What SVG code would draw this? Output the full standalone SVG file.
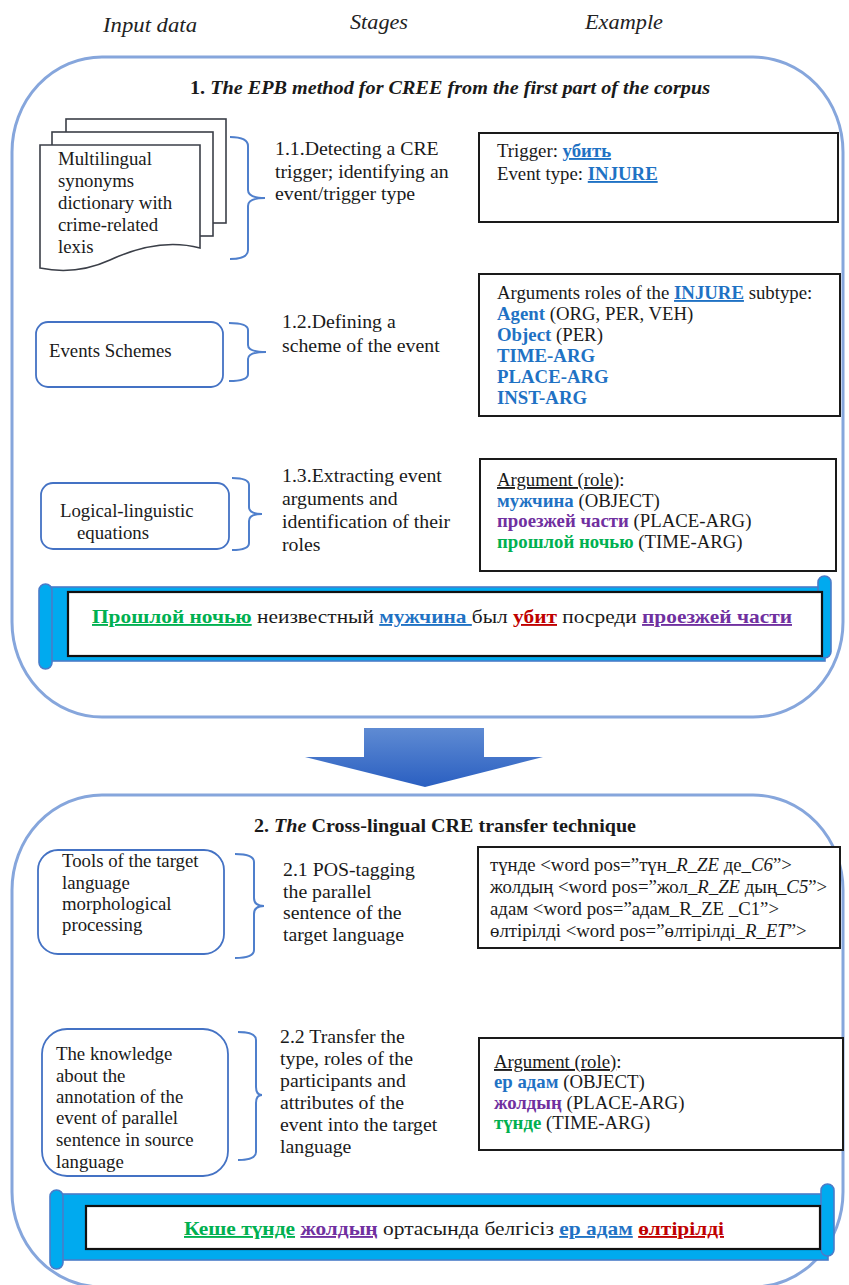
<svg xmlns="http://www.w3.org/2000/svg" width="849" height="1285" viewBox="0 0 849 1285">
  <defs>
    <style>
      .t { font-family: "Liberation Serif", "DejaVu Serif", serif; font-size: 18.8px; fill: #1a1a1a; }
      .st { font-size: 19.8px; }
      .hdr { font-style: italic; font-size: 21px; fill: #222; }
      .b { font-weight: bold; }
      .i { font-style: italic; }
      .u { text-decoration: underline; }
      .blue { fill: #1f72c4; }
      .green { fill: #00b050; }
      .purple { fill: #7030a0; }
      .red { fill: #c00000; }
      .section { fill: none; stroke: #86a6dc; stroke-width: 3; }
      .inbox { fill: #fff; stroke: #4472c4; stroke-width: 1.8; }
      .exbox { fill: #fff; stroke: #1a1a1a; stroke-width: 2; }
      .brace { fill: none; stroke: #4f7fcc; stroke-width: 2; }
      .page { fill: #fff; stroke: #3b3f48; stroke-width: 1.6; }
      .scroll { fill: #00aaef; stroke: #4a7cc9; stroke-width: 1.6; }
      .sbox { fill: #fff; stroke: #111; stroke-width: 2.2; }
    </style>
    <linearGradient id="arrowFill" x1="0" y1="0" x2="0" y2="1">
      <stop offset="0" stop-color="#5f8bd3"/>
      <stop offset="1" stop-color="#2a5fc1"/>
    </linearGradient>
  </defs>

  <!-- column headers -->
  <g id="headers">
    <text class="t hdr" x="103" y="32" textLength="94" lengthAdjust="spacingAndGlyphs">Input data</text>
    <text class="t hdr" x="350" y="29" textLength="58" lengthAdjust="spacingAndGlyphs">Stages</text>
    <text class="t hdr" x="585" y="29" textLength="78" lengthAdjust="spacingAndGlyphs">Example</text>
  </g>

  <!-- section 1 frame -->
  <g id="section1">
    <rect class="section" x="12" y="57" width="831" height="660" rx="90" ry="95"/>
    <text class="t b" x="190" y="94" font-size="20" textLength="520" lengthAdjust="spacingAndGlyphs"><tspan>1. </tspan><tspan class="i">The EPB method for CREE from the first part of the corpus</tspan></text>
  </g>

  <!-- input: dictionary stack -->
  <g id="dictionary">
    <rect class="page" x="66" y="119" width="160" height="104"/>
    <rect class="page" x="52" y="132" width="161" height="104"/>
    <path class="page" d="M40,145 H200 V248 C170,240 140,246 110,260 C88,270 64,273 40,268 Z"/>
    <text class="t" x="58" y="165">Multilingual</text>
    <text class="t" x="58" y="187">synonyms</text>
    <text class="t" x="58" y="209">dictionary with</text>
    <text class="t" x="58" y="231">crime-related</text>
    <text class="t" x="58" y="253">lexis</text>
  </g>

  <g id="stage11">
    <text class="t st" x="275" y="155">1.1.Detecting a CRE</text>
    <text class="t st" x="275" y="178">trigger; identifying an</text>
    <text class="t st" x="275" y="200">event/trigger type</text>
  </g>

  <g id="example11">
    <rect class="exbox" x="479" y="133" width="359" height="89"/>
    <text class="t" x="497" y="157">Trigger: <tspan class="b blue u">убить</tspan></text>
    <text class="t" x="497" y="180">Event type: <tspan class="b blue u">INJURE</tspan></text>
  </g>

  <g id="events-schemes">
    <rect class="inbox" x="36" y="322" width="187" height="65" rx="12"/>
    <text class="t" x="49" y="357">Events Schemes</text>
  </g>

  <g id="stage12">
    <text class="t st" x="282" y="328">1.2.Defining a</text>
    <text class="t st" x="282" y="352">scheme of the event</text>
  </g>

  <g id="example12">
    <rect class="exbox" x="479" y="274" width="361" height="142"/>
    <text class="t" x="497" y="299">Arguments roles of the <tspan class="b blue u">INJURE</tspan> subtype:</text>
    <text class="t" x="497" y="320"><tspan class="b blue">Agent</tspan> (ORG, PER, VEH)</text>
    <text class="t" x="497" y="341"><tspan class="b blue">Object</tspan> (PER)</text>
    <text class="t b blue" x="497" y="362">TIME-ARG</text>
    <text class="t b blue" x="497" y="383">PLACE-ARG</text>
    <text class="t b blue" x="497" y="404">INST-ARG</text>
  </g>

  <g id="logical-equations">
    <rect class="inbox" x="41" y="483" width="188" height="66" rx="12"/>
    <text class="t" x="60" y="517">Logical-linguistic</text>
    <text class="t" x="77" y="539">equations</text>
  </g>

  <g id="stage13">
    <text class="t st" x="282" y="482">1.3.Extracting event</text>
    <text class="t st" x="282" y="505">arguments and</text>
    <text class="t st" x="282" y="528">identification of their</text>
    <text class="t st" x="282" y="551">roles</text>
  </g>

  <g id="example13">
    <rect class="exbox" x="480" y="459" width="356" height="112"/>
    <text class="t" x="497" y="486"><tspan class="u">Argument (role)</tspan>:</text>
    <text class="t" x="497" y="507"><tspan class="b blue">мужчина</tspan> (OBJECT)</text>
    <text class="t" x="497" y="527"><tspan class="b purple">проезжей части</tspan> (PLACE-ARG)</text>
    <text class="t" x="497" y="548"><tspan class="b green">прошлой ночью</tspan> (TIME-ARG)</text>
  </g>

  <!-- source sentence scroll -->
  <g id="sentence-ru">
    <rect class="scroll" x="45" y="587" width="780" height="74"/>
    <rect class="scroll" x="39" y="584" width="13" height="85" rx="6.5"/>
    <rect class="scroll" x="818" y="576" width="13" height="82" rx="6.5"/>
    <rect class="sbox" x="68" y="592" width="754" height="64"/>
    <text class="t" x="92" y="623" font-size="19" textLength="700" lengthAdjust="spacingAndGlyphs"><tspan class="b green u">Прошлой ночью</tspan> неизвестный <tspan class="b blue u">мужчина </tspan>был <tspan class="b red u">убит</tspan> посреди <tspan class="b purple u">проезжей части</tspan></text>
  </g>

  <!-- transition arrow -->
  <g id="transition">
    <polygon points="364,728 484,728 484,757 543,757 425,787 305,757 364,757" fill="url(#arrowFill)"/>
  </g>

  <!-- section 2 frame -->
  <g id="section2">
    <rect class="section" x="12" y="795" width="831" height="492" rx="90" ry="95"/>
    <text class="t b" x="254" y="832" font-size="20" textLength="382" lengthAdjust="spacingAndGlyphs"><tspan>2. </tspan><tspan class="i">The</tspan><tspan> Cross-lingual CRE transfer technique</tspan></text>
  </g>

  <g id="morph-tools">
    <rect class="inbox" x="38" y="850" width="186" height="104" rx="20"/>
    <text class="t" x="62" y="867" font-size="19.2">Tools of the target</text>
    <text class="t" x="62" y="889" font-size="19.2">language</text>
    <text class="t" x="62" y="910" font-size="19.2">morphological</text>
    <text class="t" x="62" y="931" font-size="19.2">processing</text>
  </g>

  <g id="stage21">
    <text class="t st" x="283" y="876">2.1 POS-tagging</text>
    <text class="t st" x="283" y="898">the parallel</text>
    <text class="t st" x="283" y="919">sentence of the</text>
    <text class="t st" x="283" y="941">target language</text>
  </g>

  <g id="example21">
    <rect class="exbox" x="478" y="847" width="362" height="101"/>
    <text class="t" x="490" y="871" font-size="18">түнде &lt;word pos=”түн<tspan class="i">_R_ZE</tspan> де<tspan class="i">_C6</tspan>”&gt;</text>
    <text class="t" x="490" y="893" font-size="18">жолдың &lt;word pos=”жол<tspan class="i">_R_ZE</tspan> дың<tspan class="i">_C5</tspan>”&gt;</text>
    <text class="t" x="490" y="915" font-size="18">адам &lt;word pos=”адам_R_ZE _C1”&gt;</text>
    <text class="t" x="490" y="937" font-size="18">өлтірілді &lt;word pos=”өлтірілді<tspan class="i">_R_ET</tspan>”&gt;</text>
  </g>

  <g id="annotation-knowledge">
    <rect class="inbox" x="42" y="1029" width="186" height="147" rx="25"/>
    <text class="t" x="56" y="1060">The knowledge</text>
    <text class="t" x="56" y="1082">about the</text>
    <text class="t" x="56" y="1103">annotation of the</text>
    <text class="t" x="56" y="1124">event of parallel</text>
    <text class="t" x="56" y="1146">sentence in source</text>
    <text class="t" x="56" y="1168">language</text>
  </g>

  <g id="stage22">
    <text class="t st" x="280" y="1043">2.2 Transfer the</text>
    <text class="t st" x="280" y="1065">type, roles of the</text>
    <text class="t st" x="280" y="1087">participants and</text>
    <text class="t st" x="280" y="1109">attributes of the</text>
    <text class="t st" x="280" y="1131">event into the target</text>
    <text class="t st" x="280" y="1153">language</text>
  </g>

  <g id="example22">
    <rect class="exbox" x="479" y="1038" width="364" height="112"/>
    <text class="t" x="494" y="1068"><tspan class="u">Argument (role)</tspan>:</text>
    <text class="t" x="494" y="1088"><tspan class="b blue">ер адам</tspan> (OBJECT)</text>
    <text class="t" x="494" y="1109"><tspan class="b purple">жолдың</tspan> (PLACE-ARG)</text>
    <text class="t" x="494" y="1129"><tspan class="b green">түнде</tspan> (TIME-ARG)</text>
  </g>

  <!-- target sentence scroll -->
  <g id="sentence-kk">
    <rect class="scroll" x="56" y="1194" width="772" height="66"/>
    <rect class="scroll" x="50" y="1190" width="13" height="79" rx="6.5"/>
    <rect class="scroll" x="821" y="1184" width="13" height="72" rx="6.5"/>
    <rect class="sbox" x="86" y="1206" width="734" height="43"/>
    <text class="t" x="184" y="1235" font-size="19" textLength="540" lengthAdjust="spacingAndGlyphs"><tspan class="b green u">Кеше түнде</tspan> <tspan class="b purple u">жолдың</tspan> ортасында белгісіз <tspan class="b blue u">ер адам</tspan> <tspan class="b red u">өлтірілді</tspan></text>
  </g>

  <!-- braces linking inputs to stages -->
  <g id="connectors">
    <path class="brace" d="M230,137 Q248,137 248,146 V190 Q248,198 265,198 Q248,198 248,206 V250 Q248,259 230,259"/>
    <path class="brace" d="M229,323 Q248,323 248,330 V345 Q248,352 266,352 Q248,352 248,359 V374 Q248,381 229,381"/>
    <path class="brace" d="M232,478 Q249,478 249,485 V507 Q249,514 262,514 Q249,514 249,521 V543 Q249,550 232,550"/>
    <path class="brace" d="M235,854 Q254,854 254,862 V898 Q254,906 264,906 Q254,906 254,914 V950 Q254,958 235,958"/>
    <path class="brace" d="M238,1032 Q256,1032 256,1040 V1087 Q256,1095 262,1095 Q256,1095 256,1103 V1152 Q256,1160 238,1160"/>
  </g>
</svg>
